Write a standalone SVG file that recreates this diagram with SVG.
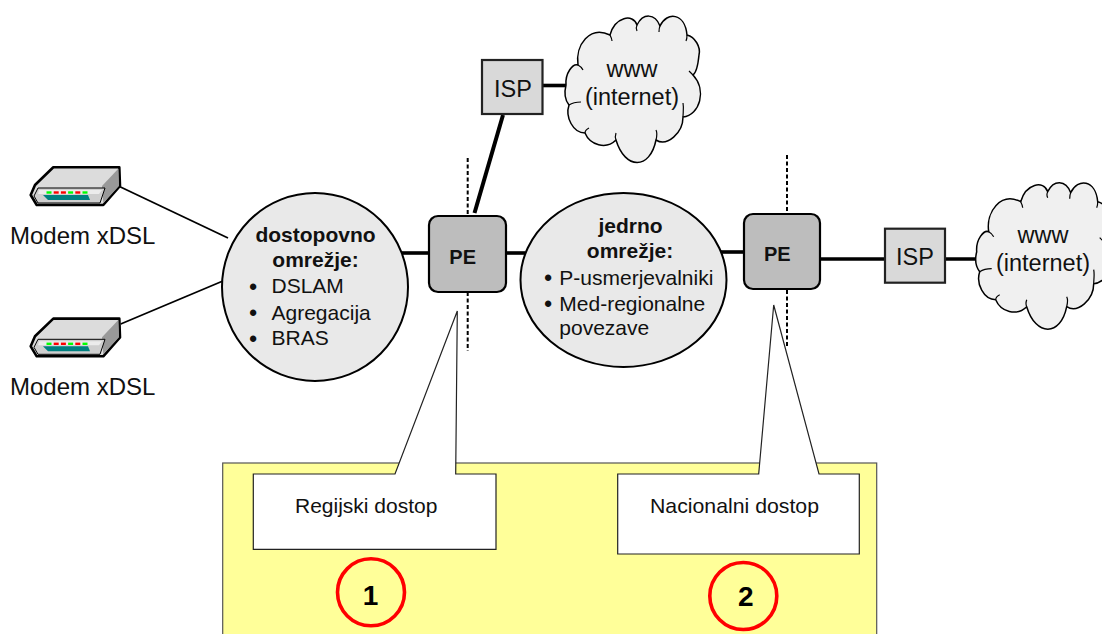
<svg xmlns="http://www.w3.org/2000/svg" xmlns:xlink="http://www.w3.org/1999/xlink" width="1102" height="634" viewBox="0 0 1102 634">
<style>
text{font-family:"Liberation Sans",Arial,sans-serif;fill:#111}
.b{font-weight:bold}.m{text-anchor:middle}
.t21{font-size:21px}.t235{font-size:23.5px}.t24{font-size:24px}
.pe-t{font-size:20px}
.bu{font-size:22px;font-weight:bold;text-anchor:middle}.bs{font-size:22px;font-weight:bold;text-anchor:middle}
.thick{stroke:#000;stroke-width:3.6;fill:none}
.thin{stroke:#000;stroke-width:1.8;fill:none}
.dash{stroke:#000;stroke-width:2;stroke-dasharray:4 2.5;fill:none}
.ell{fill:#e9e9e9;stroke:#000;stroke-width:2}
.pe{fill:#bdbdbd;stroke:#000;stroke-width:2.2}
.isp{fill:#d9d9d9;stroke:#222;stroke-width:2.2}
.call{fill:#fff;stroke:#222;stroke-width:1.2}
.num{fill:none;stroke:#f00;stroke-width:3.6}
</style>
<defs>
<g id="modem-shape">
<path d="M53.3 167.3H119.3L120 186L103.3 205H36.7L30.7 195L35 185Z" fill="#dcdcdc" stroke="#000" stroke-width="2.6" stroke-linejoin="round"/>
<path d="M118.5 168.5L119 186L103.3 203L102 186Z" fill="#999"/>
<path d="M38 188H105L100 203H38L34 196Z" fill="#cfcfcf" stroke="#000" stroke-width="1"/>
<path d="M39 190H102L99 194H38Z" fill="#ececec"/>
<path d="M43 195H88L90 200H48Z" fill="#008080"/>
<g stroke-width="2.4">
<path d="M46.5 192.5h5" stroke="#0f0"/><path d="M53.7 192.5h5" stroke="#f00"/><path d="M60.9 192.5h5" stroke="#f00"/><path d="M68.1 192.5h5" stroke="#0f0"/><path d="M75.3 192.5h5" stroke="#f00"/><path d="M82.5 192.5h5" stroke="#0f0"/>
</g>
</g>
<g id="cloud-shape">
<path d="M566 85C565 73 573 63 578 65C575 45 590 25 610 35C615 17 633 13 637 25C643 13 655 13 660 26C667 11 685 13 687 35C695 37 701 47 699 55C698 65 696 73 693 75C707 90 700 115 683 117C683 133 667 147 656 140C650 170 625 170 616 140C606 150 590 145 585 133C573 133 565 117 569 105C565 100 564 93 566 85Z" fill="#f0f0f0" stroke="#000" stroke-width="1.5" stroke-linejoin="round"/>
<path d="M569 105C572 103 577 102 581 102M683 117C683 113 684 108 683 103M656 140C657 136 657 132 656 130M616 140C615 138 615 136 616 133M585 133C585 131 587 129 589 128M610 35C611 37 612 39 612 41M637 25C636 27 636 29 637 31M660 26C659 28 659 30 659 32M687 35C687 37 687 39 686 41M693 75C691 73 690 72 689 71M578 65C580 66 582 68 583 70" fill="none" stroke="#000" stroke-width="1.2"/>
</g>
</defs>

<g id="connectors">
<path class="thin" d="M120 186.7L228 238"/>
<path class="thin" d="M120.7 324L230 278"/>
<path class="thick" d="M402 253H429"/>
<path class="thick" d="M505 253H525"/>
<path class="thick" d="M720 252H744"/>
<path class="thick" d="M820 259H885"/>
<path class="thick" d="M945 259H978"/>
<path class="thick" d="M543 85.5H568"/>
<path class="thick" style="stroke-width:4" d="M503 115L474.5 213"/>
<path class="dash" d="M467.7 158V216M467.7 292V351"/>
<path class="dash" d="M787 155V214M787 290V347"/>
</g>

<g id="modem-1"><use href="#modem-shape"/><text class="t24" x="10" y="243.5">Modem xDSL</text></g>
<g id="modem-2"><use href="#modem-shape" y="151.3"/><text class="t24" x="10" y="395">Modem xDSL</text></g>

<g id="access-network">
<ellipse class="ell" cx="315" cy="287" rx="93" ry="94"/>
<text class="t21 b m" x="315.5" y="241.7">dostopovno</text>
<text class="t21 b m" x="315.5" y="266.7">omrežje:</text>
<text class="bu" x="253" y="293.6">•</text><text class="t21" x="271.5" y="293.3">DSLAM</text>
<text class="bu" x="253" y="319.6">•</text><text class="t21" x="271.5" y="319.5">Agregacija</text>
<text class="bu" x="253" y="345.6">•</text><text class="t21" x="271.5" y="345">BRAS</text>
</g>

<g id="pe-1"><rect class="pe" x="429" y="216" width="77" height="76" rx="9"/><text class="pe-t b m" x="462.7" y="264">PE</text></g>

<g id="core-network">
<ellipse class="ell" cx="623.5" cy="280" rx="103" ry="87"/>
<text class="t21 b m" x="630.5" y="233.3">jedrno</text>
<text class="t21 b m" x="630" y="258.3">omrežje:</text>
<text class="bs" x="548" y="284.9">•</text><text class="t21" x="559.3" y="285">P-usmerjevalniki</text>
<text class="bs" x="548" y="310.6">•</text><text class="t21" x="559.3" y="310.7">Med-regionalne</text>
<text class="t21" x="559.3" y="335">povezave</text>
</g>

<g id="pe-2"><rect class="pe" x="744" y="214" width="76" height="75" rx="9"/><text class="pe-t b m" x="777.3" y="261">PE</text></g>

<g id="isp-1"><rect class="isp" x="482" y="60" width="60.5" height="54"/><text class="t235 m" x="513" y="96.7">ISP</text></g>
<g id="isp-2"><rect class="isp" x="885" y="228.7" width="60" height="54"/><text class="t235 m" x="915" y="265">ISP</text></g>

<g id="cloud-1"><use href="#cloud-shape"/><text class="t235 m" x="632" y="77.3">www</text><text class="t235 m" x="632" y="105">(internet)</text></g>
<g id="cloud-2"><use href="#cloud-shape" x="410.7" y="166.7"/><text class="t235 m" x="1043" y="243.3">www</text><text class="t235 m" x="1043" y="270.7">(internet)</text></g>

<g id="panel"><rect x="222.7" y="463" width="654" height="180" fill="#ffff99" stroke="#555" stroke-width="1.2"/></g>

<g id="callout-1">
<path class="call" d="M253.3 474H395L457.3 311L455.7 474H496V549.3H253.3Z"/>
<text class="t21" x="295" y="513">Regijski dostop</text>
</g>
<g id="callout-2">
<path class="call" d="M617.7 474H758.7L773.7 305L819 474H859.3V554H617.7Z"/>
<text class="t21" x="650" y="513" textLength="169" lengthAdjust="spacingAndGlyphs">Nacionalni dostop</text>
</g>

<g id="badge-1"><circle class="num" cx="371" cy="592.3" r="33.5"/><text class="b m" style="font-size:28px;fill:#000" x="370.5" y="605">1</text></g>
<g id="badge-2"><circle class="num" cx="743.3" cy="596" r="33.5"/><text class="b m" style="font-size:28px;fill:#000" x="745.7" y="606">2</text></g>
</svg>
